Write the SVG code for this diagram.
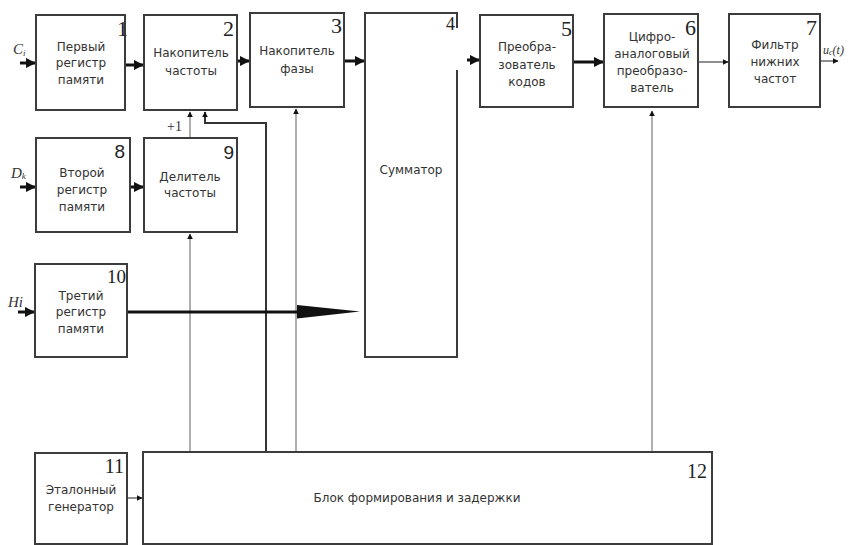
<svg xmlns="http://www.w3.org/2000/svg" width="854" height="545" viewBox="0 0 854 545">
<defs>
<style>
.box{fill:#fff;stroke:#3c3c3c;stroke-width:2}
.t{font-family:"DejaVu Sans","Liberation Sans",sans-serif;font-size:12px;fill:#333;text-anchor:middle}
.n{font-family:"Liberation Serif",serif;font-size:22px;fill:#222;text-anchor:end}
.ns{font-family:"Liberation Sans",sans-serif;font-size:19px;fill:#222;text-anchor:end}
.lab{font-family:"Liberation Serif",serif;font-style:italic;fill:#333}
.thick{stroke:#111;stroke-width:3;fill:none}
.thin{stroke:#444;stroke-width:1.2;fill:none}
.gray{stroke:#9a9a9a;stroke-width:1.6;fill:none}
.dark{stroke:#333;stroke-width:2;fill:none}
</style>
<marker id="ah" viewBox="0 0 10 10" refX="9" refY="5" markerWidth="6" markerHeight="6" markerUnits="userSpaceOnUse" orient="auto"><path d="M0,0 L10,5 L0,10 z" fill="#111"/></marker>
<marker id="ahb" viewBox="0 0 10 10" refX="9" refY="5" markerWidth="3.5" markerHeight="3.5" orient="auto"><path d="M0,0 L10,5 L0,10 z" fill="#111"/></marker>
</defs>

<g id="connectors">
<line class="thick" x1="20" y1="63" x2="35" y2="63" marker-end="url(#ahb)"/>
<line class="thick" x1="126" y1="65" x2="143" y2="65" marker-end="url(#ahb)"/>
<line class="thick" x1="238" y1="61" x2="249" y2="61" marker-end="url(#ahb)"/>
<line class="thick" x1="345" y1="61" x2="364" y2="61" marker-end="url(#ahb)"/>
<line class="thick" x1="467" y1="60" x2="479" y2="60" marker-end="url(#ahb)"/>
<line class="thick" x1="574" y1="62" x2="603" y2="62" marker-end="url(#ahb)"/>
<line class="thin" x1="699" y1="62" x2="728" y2="62" marker-end="url(#ah)"/>
<line class="thin" x1="821" y1="61" x2="838" y2="61" marker-end="url(#ah)"/>
<line class="thick" x1="20" y1="187" x2="35" y2="187" marker-end="url(#ahb)"/>
<line class="thick" x1="131" y1="187" x2="143" y2="187" marker-end="url(#ahb)"/>
<line class="thick" x1="18" y1="312" x2="34" y2="312" marker-end="url(#ahb)"/>
<line class="thin" x1="128" y1="498" x2="142" y2="498" marker-end="url(#ah)"/>
<line class="gray" x1="190" y1="451" x2="190" y2="234" marker-end="url(#ah)"/>
<line class="gray" x1="190" y1="137" x2="190" y2="112" marker-end="url(#ah)"/>
<polyline class="dark" points="266,451 266,123 205,123 205,112" marker-end="url(#ah)"/>
<line class="gray" x1="296" y1="451" x2="296" y2="109" marker-end="url(#ah)"/>
<line class="gray" x1="652" y1="451" x2="652" y2="111" marker-end="url(#ah)"/>
<line class="thick" x1="127" y1="312" x2="300" y2="312"/>
<polygon points="297,305 360,311.5 297,318.5" fill="#111"/>
</g>

<g id="n1"><rect class="box" x="36" y="15" width="89" height="95"/>
<text class="n" x="128" y="36">1</text>
<text class="t" x="81" y="51">Первый</text><text class="t" x="81" y="67">регистр</text><text class="t" x="81" y="84">памяти</text></g>

<g id="n2"><rect class="box" x="144" y="15" width="93" height="95"/>
<text class="n" x="234" y="36">2</text>
<text class="t" x="191" y="57">Накопитель</text><text class="t" x="191" y="75">частоты</text></g>

<g id="n3"><rect class="box" x="250" y="13" width="94" height="94"/>
<text class="n" x="342" y="33">3</text>
<text class="t" x="297" y="55">Накопитель</text><text class="t" x="297" y="73">фазы</text></g>

<g id="n4"><polyline class="box" points="457,28 457,13 365,13 365,357 457,357 457,70"/>
<text class="n" x="455" y="30" style="font-size:18px">4</text>
<text class="t" x="411" y="174">Сумматор</text></g>

<g id="n5"><rect class="box" x="480" y="15" width="93" height="92"/>
<text class="n" x="572" y="36">5</text>
<text class="t" x="527" y="51">Преобра-</text><text class="t" x="527" y="69">зователь</text><text class="t" x="527" y="86">кодов</text></g>

<g id="n6"><rect class="box" x="604" y="14" width="94" height="93"/>
<text class="n" x="696" y="35">6</text>
<text class="t" x="652" y="41">Цифро-</text><text class="t" x="652" y="58">аналоговый</text><text class="t" x="652" y="75">преобразо-</text><text class="t" x="652" y="92">ватель</text></g>

<g id="n7"><rect class="box" x="729" y="14" width="91" height="93"/>
<text class="n" x="817" y="35">7</text>
<text class="t" x="775" y="49">Фильтр</text><text class="t" x="775" y="66">нижних</text><text class="t" x="775" y="83">частот</text></g>

<g id="n8"><rect class="box" x="36" y="138" width="94" height="94"/>
<text class="ns" x="125" y="158">8</text>
<text class="t" x="82" y="177">Второй</text><text class="t" x="82" y="194">регистр</text><text class="t" x="82" y="211">памяти</text></g>

<g id="n9"><rect class="box" x="144" y="138" width="93" height="94"/>
<text class="ns" x="234" y="159">9</text>
<text class="t" x="190" y="181">Делитель</text><text class="t" x="190" y="197">частоты</text></g>

<g id="n10"><rect class="box" x="35" y="264" width="92" height="93"/>
<text class="n" x="126" y="283" style="font-size:19px">10</text>
<text class="t" x="81" y="300">Третий</text><text class="t" x="81" y="316">регистр</text><text class="t" x="81" y="333">памяти</text></g>

<g id="n11"><rect class="box" x="35" y="453" width="92" height="91"/>
<text class="n" x="124" y="473" style="font-size:20px">11</text>
<text class="t" x="81" y="494">Эталонный</text><text class="t" x="81" y="511">генератор</text></g>

<g id="n12"><rect class="box" x="143" y="452" width="569" height="92"/>
<text class="n" x="707" y="478" style="font-size:20px">12</text>
<text class="t" x="417" y="502">Блок формирования и задержки</text></g>

<g id="labels">
<text class="lab" x="13" y="54" font-size="15">C<tspan font-size="9" dy="2">i</tspan></text>
<text class="lab" x="11" y="178" font-size="15">D<tspan font-size="9" dy="1">k</tspan></text>
<text class="lab" x="8" y="307" font-size="15">Hi</text>
<text class="lab" x="823" y="54" font-size="12">u<tspan font-size="8" dy="1">c</tspan><tspan dy="-1">(t)</tspan></text>
<text x="167" y="131" style="font-family:'Liberation Serif',serif;font-size:14px;fill:#333">+1</text>
</g>
</svg>
